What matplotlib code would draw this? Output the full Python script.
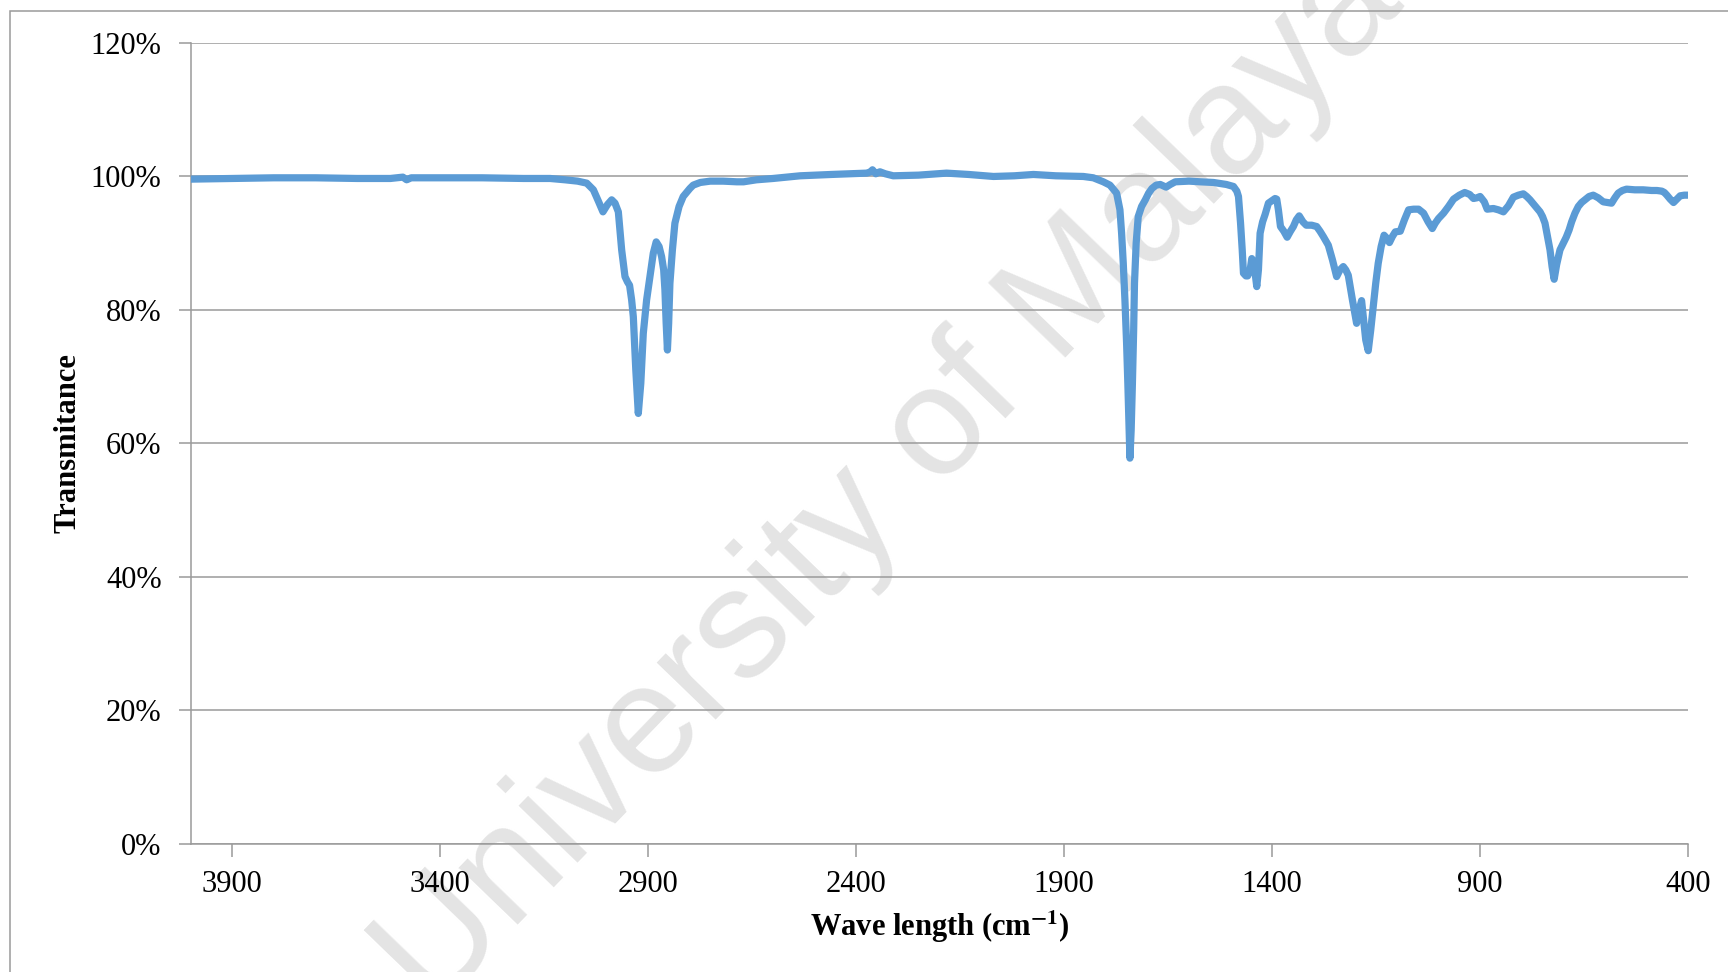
import matplotlib
matplotlib.use("Agg")
import matplotlib.pyplot as plt
from matplotlib.patches import Rectangle
from matplotlib.ticker import FuncFormatter

# ---- spectrum (wavenumber cm-1, transmittance %) ----
wavenumber = [
    4000, 3900, 3800, 3700, 3600, 3520, 3490, 3481, 3470, 3400, 3300, 3200,
    3136, 3100, 3070, 3048, 3032, 3020, 3009, 2998, 2988, 2980, 2972, 2964,
    2956, 2950, 2945, 2940, 2936, 2930, 2924, 2918, 2912, 2904, 2896, 2888,
    2881, 2874, 2868, 2863, 2860, 2857, 2854, 2851, 2848, 2842, 2836, 2826,
    2816, 2800, 2792, 2775, 2751, 2720, 2687, 2671, 2640, 2600, 2535, 2460,
    2375, 2365, 2361, 2357, 2353, 2347, 2343, 2330, 2311, 2250, 2183, 2130,
    2070, 2020, 1974, 1920, 1854, 1830, 1806, 1790, 1774, 1766, 1762, 1758,
    1754, 1750, 1747, 1744, 1742, 1739, 1736, 1733, 1731, 1727, 1722, 1714,
    1705, 1697, 1689, 1679, 1669, 1662, 1655, 1645, 1633, 1600, 1573, 1541,
    1510, 1493, 1485, 1481, 1476, 1472, 1469, 1463, 1459, 1453, 1449, 1445,
    1441, 1437, 1433, 1429, 1423, 1417, 1409, 1400, 1393, 1389, 1385, 1380,
    1372, 1364, 1356, 1349, 1342, 1335, 1326, 1318, 1305, 1293, 1285, 1277,
    1265, 1255, 1245, 1237, 1229, 1223, 1217, 1207, 1197, 1191, 1185, 1180,
    1175, 1169, 1163, 1157, 1151, 1145, 1138, 1131, 1125, 1118, 1111, 1104,
    1092, 1082, 1072, 1060, 1048, 1036, 1025, 1015, 1008, 1000, 988, 976,
    964, 950, 937, 925, 916, 908, 900, 890, 883, 868, 856, 844,
    832, 820, 808, 796, 788, 780, 768, 756, 750, 744, 738, 732,
    727, 722, 716, 708, 700, 693, 686, 680, 672, 664, 656, 648,
    638, 628, 616, 604, 594, 584, 576, 568, 558, 548, 528, 508,
    488, 475, 463, 457, 451, 443, 435, 427, 419, 409, 400,
]
transmittance = [
    99.6, 99.7, 99.8, 99.8, 99.7, 99.7, 99.9, 99.5, 99.8, 99.8, 99.8, 99.7,
    99.7, 99.5, 99.3, 99.0, 98.0, 96.3, 94.7, 95.8, 96.5, 96.0, 94.7, 89.0,
    85.0, 84.2, 83.7, 81.5, 79.0, 71.0, 64.5, 69.0, 76.5, 81.5, 85.0, 88.5,
    90.2, 89.5, 88.0, 86.0, 83.0, 78.0, 74.0, 78.0, 84.0, 89.0, 93.0, 95.5,
    97.0, 98.2, 98.7, 99.1, 99.3, 99.3, 99.2, 99.2, 99.5, 99.7, 100.1, 100.3,
    100.5, 100.7, 101.0, 100.7, 100.4, 100.6, 100.7, 100.4, 100.1, 100.2, 100.5, 100.3,
    100.0, 100.1, 100.3, 100.1, 100.0, 99.8, 99.2, 98.7, 97.5, 95.0, 91.5, 87.0,
    81.5, 75.0, 69.0, 62.0, 57.8, 62.0, 69.0, 77.0, 84.0, 90.0, 94.0, 95.5,
    96.5, 97.5, 98.2, 98.7, 98.8, 98.6, 98.4, 98.8, 99.2, 99.3, 99.2, 99.1,
    98.8, 98.5, 97.8, 97.0, 93.0, 89.0, 85.5, 85.1, 85.1, 86.0, 87.7, 87.2,
    85.5, 83.5, 86.0, 91.5, 93.2, 94.3, 96.0, 96.4, 96.7, 96.6, 95.0, 92.5,
    91.8, 90.9, 91.8, 92.5, 93.5, 94.1, 93.2, 92.7, 92.7, 92.5, 91.8, 91.0,
    89.7, 87.5, 85.0, 86.0, 86.5, 86.0, 85.2, 81.5, 78.0, 80.0, 81.4, 78.5,
    75.5, 73.9, 77.0, 80.5, 84.0, 87.0, 89.5, 91.2, 90.8, 90.1, 91.0, 91.7,
    91.8, 93.5, 95.0, 95.1, 95.1, 94.5, 93.2, 92.2, 93.0, 93.7, 94.5, 95.5,
    96.6, 97.2, 97.6, 97.3, 96.7, 96.8, 97.0, 96.2, 95.1, 95.2, 95.0, 94.7,
    95.6, 96.9, 97.2, 97.4, 97.0, 96.5, 95.6, 94.7, 94.0, 93.0, 91.0, 89.0,
    86.5, 84.6, 86.8, 89.0, 90.0, 90.9, 92.0, 93.2, 94.5, 95.5, 96.1, 96.5,
    97.0, 97.2, 96.8, 96.2, 96.1, 96.0, 96.8, 97.5, 97.9, 98.1, 98.0, 98.0,
    97.9, 97.9, 97.8, 97.6, 97.2, 96.6, 96.1, 96.6, 97.1, 97.2, 97.2,
]
x_ticks = [3900, 3400, 2900, 2400, 1900, 1400, 900, 400]
y_ticks = [0, 20, 40, 60, 80, 100, 120]

plt.rcParams["font.family"] = ["Liberation Serif", "DejaVu Serif"]
plt.rcParams["mathtext.fontset"] = "stix"

grey = "#9a9a9a"
fig = plt.figure(figsize=(17.28, 9.72), dpi=100)
ax = fig.add_axes([0.1104, 0.1317, 0.8665, 0.8241])
ax.set_facecolor("none")

# watermark behind everything
fig.text(0.515, 0.505, "University of Malaya", fontsize=112, family="Liberation Sans",
         color="#e4e4e4", rotation=46, ha="center", va="center", zorder=-5)

# outer border (partly cut off at right / bottom)
fig.add_artist(Rectangle((10 / 1728, -0.2), 1.2, 1.2 - 11 / 972,
                         transform=fig.transFigure, fill=False, edgecolor=grey,
                         linewidth=1.1, clip_on=False))

ax.plot(wavenumber, transmittance, color="#5b9bd5", linewidth=5.2,
        solid_joinstyle="round", solid_capstyle="round", zorder=3)

ax.set_xlim(4000, 400)
ax.set_ylim(0, 120)
ax.set_xticks(x_ticks)
ax.set_yticks(y_ticks)
ax.yaxis.set_major_formatter(FuncFormatter(lambda v, p: "%d%%" % v))
ax.grid(axis="y", color=grey, linewidth=1.1, zorder=1)
ax.set_axisbelow(True)

for s in ["top", "right"]:
    ax.spines[s].set_visible(False)
for s in ["left", "bottom"]:
    ax.spines[s].set_color(grey)
    ax.spines[s].set_linewidth(1.1)
ax.tick_params(axis="both", color=grey, width=1.1, length=9, labelsize=22)
ax.tick_params(axis="y", pad=12)
ax.tick_params(axis="x", pad=10)

ax.set_xlabel(r"Wave length (cm$^{\mathbf{-1}}$)", fontsize=22, fontweight="bold", labelpad=6)
ax.set_ylabel("Transmitance", fontsize=22, fontweight="bold", labelpad=6)

fig.savefig("out.png", dpi=100)
